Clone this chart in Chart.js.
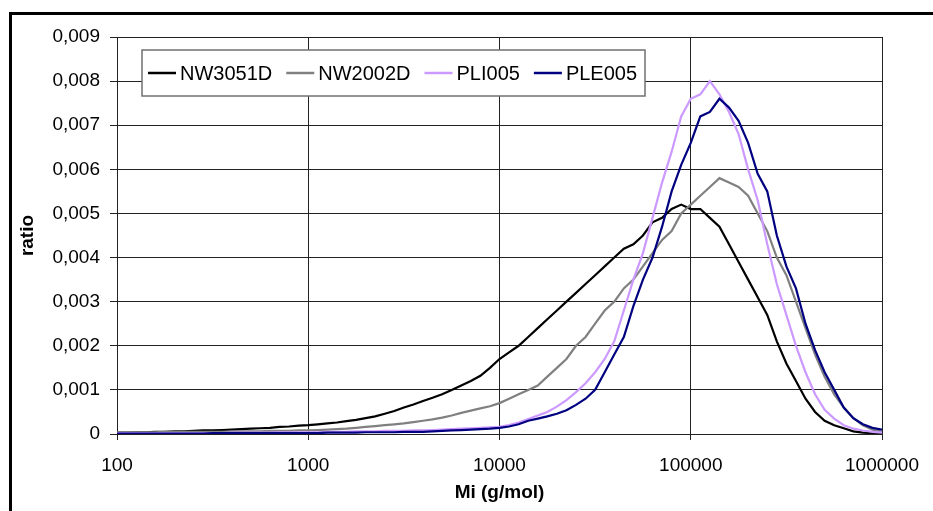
<!DOCTYPE html>
<html>
<head>
<meta charset="utf-8">
<script src="https://cdn.jsdelivr.net/npm/chart.js@4.4.0/dist/chart.umd.min.js"></script>
<style>
html,body{margin:0;padding:0;background:#fff;}
#wrap{width:933px;height:511px;position:relative;}
</style>
</head>
<body>
<div id="wrap"><canvas id="c" width="933" height="511"></canvas></div>
<script>
// Molar mass (g/mol) sample points
const mi = [100,112,126,141,158,178,200,224,251,282,316,355,398,447,501,562,631,708,794,891,
1000,1122,1259,1413,1585,1778,1995,2239,2512,2818,3162,3548,3981,4467,5012,5623,6310,7079,7943,8913,
10000,11220,12589,14125,15849,17783,19953,22387,25119,28184,31623,35481,39811,44668,50119,56234,63096,70795,79433,89125,
100000,112202,125893,141254,158489,177828,199526,223872,251189,281838,316228,354813,398107,446684,501187,562341,630957,707946,794328,891251,
1000000];

const nw3051d = [0.00003,0.00003,0.00004,0.00004,0.00005,0.00005,0.00006,0.00006,0.00007,0.00008,0.00008,0.00009,0.0001,0.00011,0.00012,0.00013,0.00014,0.00016,0.00017,0.00019,
0.0002,0.00022,0.00024,0.00026,0.00029,0.00032,0.00036,0.0004,0.00046,0.00052,0.0006,0.00067,0.00075,0.00082,0.0009,0.001,0.0011,0.0012,0.00132,0.0015,
0.0017,0.00185,0.002,0.0022,0.0024,0.0026,0.0028,0.003,0.0032,0.0034,0.0036,0.0038,0.004,0.0042,0.0043,0.0045,0.0048,0.0049,0.0051,0.0052,
0.0051,0.0051,0.0049,0.0047,0.0043,0.0039,0.0035,0.0031,0.0027,0.0021,0.0016,0.0012,0.0008,0.0005,0.0003,0.0002,0.00013,0.00006,0.00003,0.00002,
0.00001];

const nw2002d = [0.00004,0.00004,0.00004,0.00004,0.00004,0.00005,0.00005,0.00005,0.00005,0.00005,0.00005,0.00005,0.00006,0.00006,0.00006,0.00006,0.00007,0.00007,0.00007,0.00008,
0.00008,0.00009,0.0001,0.00011,0.00012,0.00014,0.00016,0.00018,0.0002,0.00022,0.00024,0.00027,0.0003,0.00033,0.00037,0.00042,0.00048,0.00053,0.00058,0.00063,
0.0007,0.0008,0.0009,0.001,0.0011,0.0013,0.0015,0.0017,0.002,0.0022,0.0025,0.0028,0.003,0.0033,0.0035,0.0038,0.0041,0.0044,0.0046,0.005,
0.0052,0.0054,0.0056,0.0058,0.0057,0.0056,0.0054,0.005,0.0046,0.004,0.0036,0.003,0.0024,0.0018,0.0013,0.0009,0.0006,0.00036,0.0002,0.0001,
0.00005];

const pli005 = [0.00002,0.00002,0.00002,0.00002,0.00002,0.00002,0.00002,0.00002,0.00002,0.00002,0.00002,0.00002,0.00003,0.00003,0.00003,0.00003,0.00003,0.00004,0.00004,0.00004,
0.00004,0.00004,0.00005,0.00005,0.00005,0.00006,0.00006,0.00006,0.00007,0.00007,0.00007,0.00008,0.00008,0.00009,0.0001,0.00011,0.00012,0.00013,0.00014,0.00015,
0.00016,0.0002,0.00026,0.00034,0.00042,0.0005,0.00062,0.00077,0.00095,0.00115,0.0014,0.0017,0.0021,0.0028,0.0035,0.0041,0.0049,0.0057,0.0064,0.0072,
0.0076,0.0077,0.008,0.0077,0.0073,0.0068,0.006,0.0053,0.0043,0.0034,0.0027,0.002,0.0014,0.0009,0.00055,0.00035,0.0002,0.00012,0.00008,0.00005,
0.00003];

const ple005 = [0.00001,0.00001,0.00001,0.00001,0.00001,0.00001,0.00001,0.00001,0.00001,0.00001,0.00002,0.00002,0.00002,0.00002,0.00002,0.00002,0.00002,0.00002,0.00002,0.00002,
0.00002,0.00002,0.00003,0.00003,0.00003,0.00003,0.00004,0.00004,0.00004,0.00004,0.00005,0.00005,0.00005,0.00006,0.00007,0.00008,0.00009,0.0001,0.00011,0.00012,
0.00014,0.00017,0.00022,0.0003,0.00035,0.0004,0.00046,0.00054,0.00066,0.0008,0.001,0.0014,0.0018,0.0022,0.0029,0.0035,0.004,0.0047,0.0055,0.0061,
0.0066,0.0072,0.0073,0.0076,0.0074,0.0071,0.0066,0.0059,0.0055,0.0045,0.0038,0.0033,0.0025,0.0019,0.0014,0.001,0.0006,0.00036,0.00022,0.00014,
0.0001];

const seriesNames = ['NW3051D','NW2002D','PLI005','PLE005'];
const seriesColors = ['#000000','#808080','#CC99FF','#000080'];
const xTicks = [100,1000,10000,100000,1000000];
const yMax = 0.009, yStep = 0.001;

const FONT = "'Liberation Sans', Arial, sans-serif";
Chart.defaults.font.family = FONT;
Chart.defaults.color = '#000';

function pts(vals){ return vals.map((v,i)=>({x:mi[i], y:v})); }
const allVals = [nw3051d, nw2002d, pli005, ple005];

const datasets = allVals.map((vals,i)=>({
  label: seriesNames[i],
  data: pts(vals),
  borderColor: seriesColors[i],
  backgroundColor: seriesColors[i],
  borderWidth: 2.2,
  pointRadius: 0,
  tension: 0,
  fill: false,
  order: allVals.length - i
}));

const framePlugin = {
  id: 'frame',
  beforeDraw(chart){
    const ctx = chart.ctx;
    ctx.save(); ctx.fillStyle = '#fff'; ctx.fillRect(0,0,chart.width,chart.height); ctx.restore();
  },
  afterDraw(chart){
    const ctx = chart.ctx;
    ctx.save();
    ctx.fillStyle = '#000';
    ctx.fillRect(9, 12, chart.width - 9, 3);
    ctx.fillRect(9, 12, 3, chart.height - 12);
    ctx.restore();
  }
};

const legendPlugin = {
  id: 'boxLegend',
  afterDatasetsDraw(chart){
    const ctx = chart.ctx;
    const x0 = 142, y0 = 50, w = 503, h = 46;
    ctx.save();
    ctx.fillStyle = '#fff'; ctx.fillRect(x0, y0, w, h);
    ctx.strokeStyle = '#707070'; ctx.lineWidth = 1.5; ctx.strokeRect(x0, y0, w, h);
    ctx.font = '20px ' + FONT;
    ctx.textBaseline = 'middle';
    let x = x0 + 6; const y = y0 + h/2;
    chart.data.datasets.forEach(ds => {
      ctx.strokeStyle = ds.borderColor; ctx.lineWidth = 2.5;
      ctx.beginPath(); ctx.moveTo(x, y); ctx.lineTo(x + 28, y); ctx.stroke();
      ctx.fillStyle = '#000';
      ctx.fillText(ds.label, x + 32, y + 1);
      x += 32 + ctx.measureText(ds.label).width + 14;
    });
    ctx.restore();
  }
};

new Chart(document.getElementById('c'), {
  type: 'line',
  data: { datasets },
  plugins: [framePlugin, legendPlugin],
  options: {
    responsive: false,
    animation: false,
    parsing: true,
    layout: { padding: { left: 0, right: 50, top: 37, bottom: 0 } },
    plugins: { legend: { display: false }, tooltip: { enabled: false } },
    scales: {
      x: {
        type: 'logarithmic',
        min: 100, max: 1000000,
        afterBuildTicks: s => { s.ticks = xTicks.map(v => ({ value: v })); },
        afterFit: s => { s.height = 77; },
        ticks: {
          autoSkip: false, maxRotation: 0, minRotation: 0, padding: 14,
          font: { size: 19 }, color: '#000',
          callback: v => String(v)
        },
        grid: { color: '#222', lineWidth: 1, tickLength: 6, drawTicks: true },
        border: { display: true, color: '#222', width: 1 },
        title: { display: true, text: 'Mi (g/mol)', font: { size: 19, weight: 'bold' }, color: '#000', padding: { top: 0, bottom: 7 } }
      },
      y: {
        type: 'linear',
        min: 0, max: yMax,
        afterFit: s => { s.width = 117; },
        ticks: {
          stepSize: yStep, padding: 10,
          font: { size: 19 }, color: '#000',
          callback: v => Math.abs(v) < 1e-9 ? '0' : v.toFixed(3).replace('.', ',')
        },
        grid: { color: '#222', lineWidth: 1, tickLength: 7, drawTicks: true },
        border: { display: true, color: '#222', width: 1 },
        title: { display: true, text: 'ratio', font: { size: 19, weight: 'bold' }, color: '#000', padding: { top: 16, bottom: 0 } }
      }
    }
  }
});
</script>
</body>
</html>
